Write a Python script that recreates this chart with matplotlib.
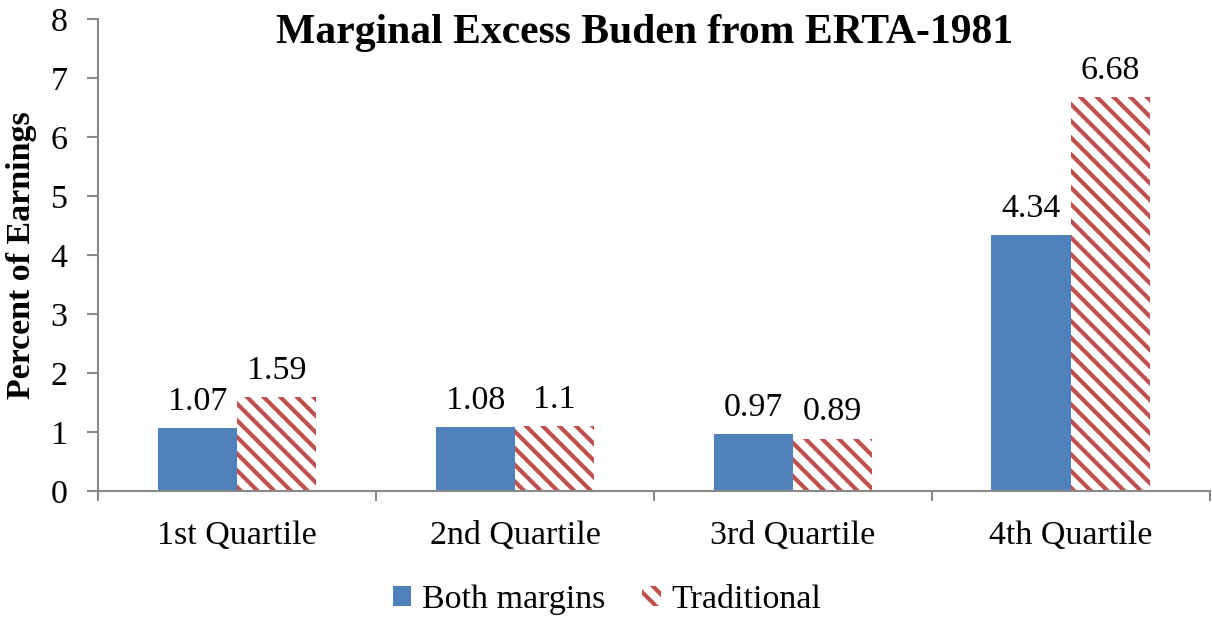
import numpy as np
import matplotlib.pyplot as plt

plt.rcParams['font.family'] = ['Liberation Serif', 'DejaVu Serif']
plt.rcParams['hatch.linewidth'] = 3.0

categories = ['1st Quartile', '2nd Quartile', '3rd Quartile', '4th Quartile']
both_margins = [1.07, 1.08, 0.97, 4.34]
traditional = [1.59, 1.1, 0.89, 6.68]
both_labels = ['1.07', '1.08', '0.97', '4.34']
trad_labels = ['1.59', '1.1', '0.89', '6.68']

blue = '#4F81BD'
red = '#C0504D'
grey = '#898989'
fs = 24.5

fig = plt.figure(figsize=(12.12, 6.18), dpi=100)
ax = fig.add_axes([0.081, 0.2055, 0.917, 0.7635])

x = np.arange(len(categories))
w = 0.285
b1 = ax.bar(x - w/2, both_margins, w, color=blue, label='Both margins')
b2 = ax.bar(x + w/2, traditional, w, facecolor='white', edgecolor=red,
            hatch='\\\\', linewidth=0, label='Traditional')

for rect, lab in zip(b1, both_labels):
    ax.annotate(lab, (rect.get_x() + rect.get_width()/2, rect.get_height()),
                xytext=(0, 8), textcoords='offset points', ha='center', va='bottom', fontsize=fs)
for rect, lab in zip(b2, trad_labels):
    ax.annotate(lab, (rect.get_x() + rect.get_width()/2, rect.get_height()),
                xytext=(0, 8), textcoords='offset points', ha='center', va='bottom', fontsize=fs)

ax.set_xlim(-0.5, 3.5)
ax.set_ylim(0, 8)
ax.set_yticks(range(0, 9))
ax.set_xticks(x)
ax.set_xticklabels(categories, fontsize=fs)
ax.set_xticks(np.arange(-0.5, 4, 1), minor=True)
ax.tick_params(axis='x', which='major', length=0, pad=21)
ax.tick_params(axis='x', which='minor', length=7, width=1.5, color=grey, direction='out')
ax.tick_params(axis='y', labelsize=fs, length=8, width=1.5, color=grey, pad=14)

for s in ['top', 'right']:
    ax.spines[s].set_visible(False)
for s in ['left', 'bottom']:
    ax.spines[s].set_color(grey)
    ax.spines[s].set_linewidth(1.5)

ax.set_ylabel('Percent of Earnings', fontsize=fs, fontweight='bold')
ax.yaxis.set_label_coords(37 / 1212, 1 - 255 / 618, transform=fig.transFigure)
fig.text(645 / 1212, 1 - 43 / 618, 'Marginal Excess Buden from ERTA-1981',
         fontsize=30, fontweight='bold', ha='center', va='baseline')

fig.legend(handles=[b1, b2], labels=['Both margins', 'Traditional'],
           loc='center', bbox_to_anchor=(607 / 1212, 1 - 600 / 618), ncol=2, frameon=False,
           fontsize=fs, handlelength=0.55, handleheight=0.55, handletextpad=0.3,
           columnspacing=1.1, borderpad=0)

fig.savefig('out.png', dpi=100)
